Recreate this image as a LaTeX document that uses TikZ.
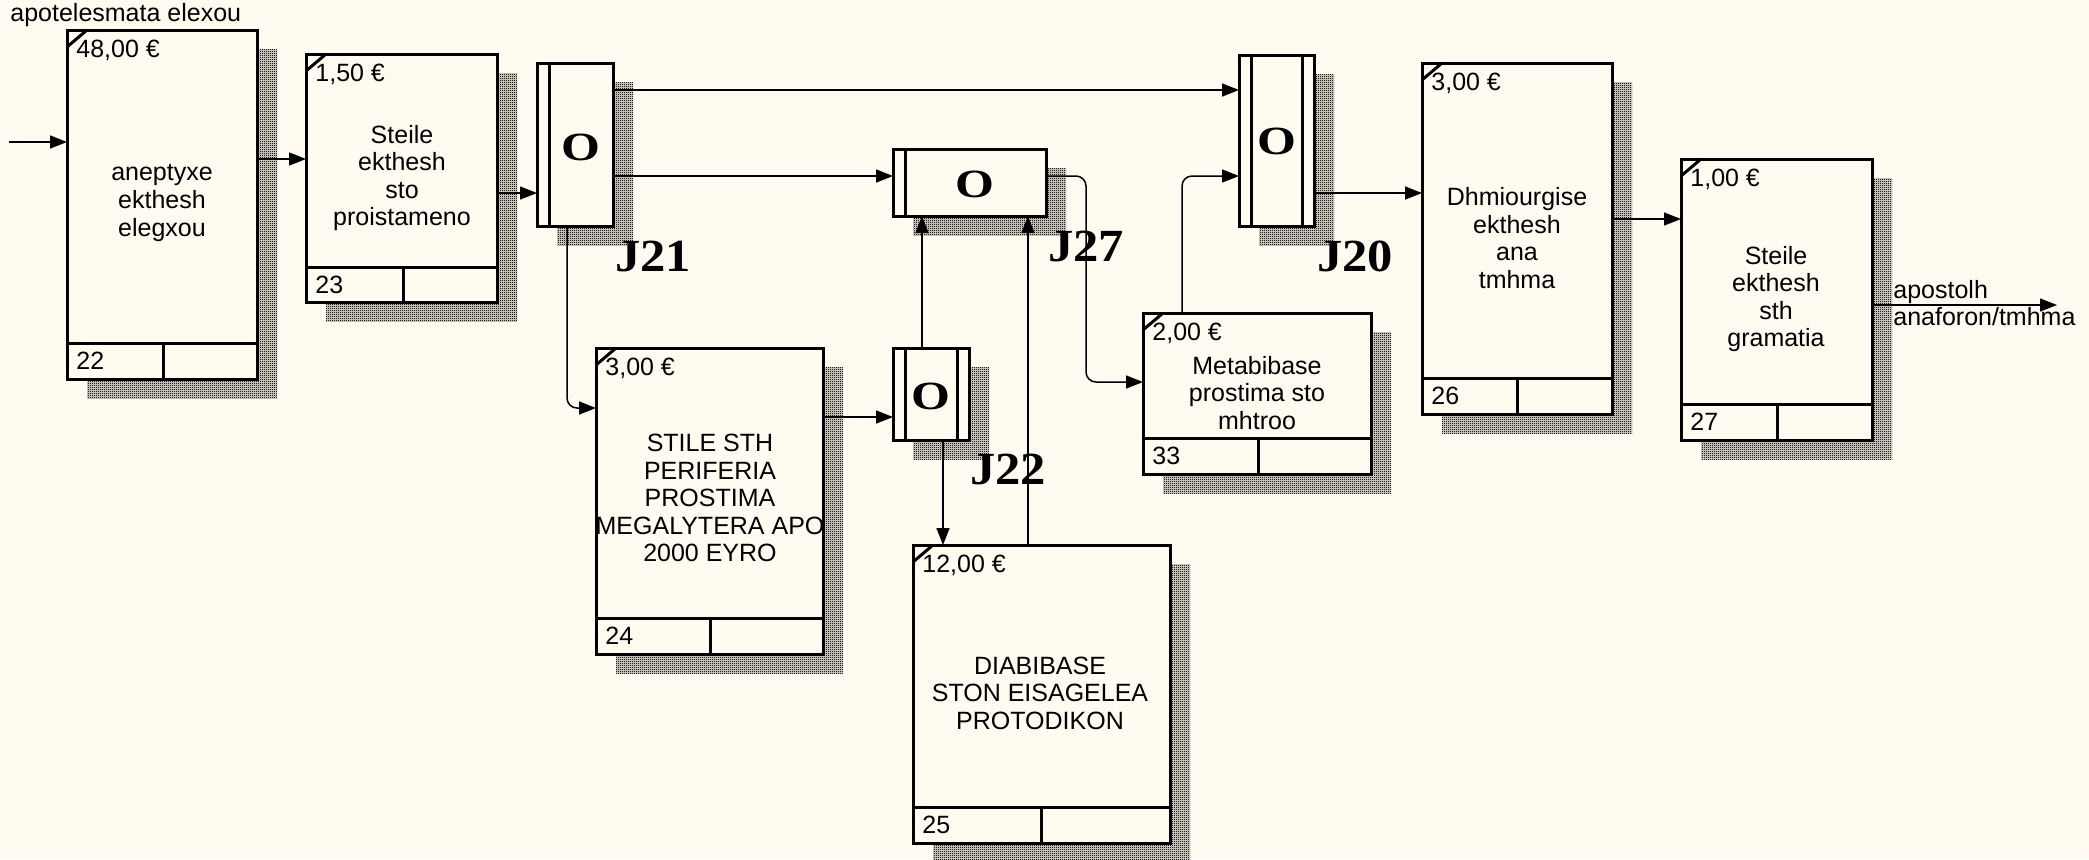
\documentclass[tikz,border=0pt]{standalone}
\usepackage{fontspec}
\usepackage{graphicx}
\setmainfont{Liberation Sans}
\newfontfamily\jfont{Liberation Serif}
\usetikzlibrary{arrows.meta,patterns}
\definecolor{bg}{RGB}{255,251,240}
\pgfdeclarepatternformonly{finecheck}{\pgfpointorigin}{\pgfpoint{1pt}{1pt}}{\pgfpoint{1pt}{1pt}}{%
 \pgfpathrectangle{\pgfpointorigin}{\pgfpoint{0.5pt}{0.5pt}}%
 \pgfpathrectangle{\pgfpoint{0.5pt}{0.5pt}}{\pgfpoint{0.5pt}{0.5pt}}%
 \pgfusepath{fill}}
\tikzset{
 conn/.style={line width=0.75pt},
 arr/.style={conn,-{Triangle[length=8.5pt,width=6.5pt]}},
 shadowfill/.style={pattern=finecheck, pattern color=black},
 ubox/.style={draw, line width=1.5pt, fill=bg, inner sep=0pt, outer sep=0pt},
 thickl/.style={line width=1.5pt},
 btext/.style={align=center, font=\fontsize{12.5}{13.8}\selectfont, inner sep=0pt},
 small/.style={font=\fontsize{12.5}{13.8}\selectfont, inner sep=0pt, anchor=west},
 jlabel/.style={font=\jfont\bfseries\fontsize{23}{25}\selectfont, inner sep=0pt},
 olabel/.style={font=\jfont\bfseries\fontsize{20}{22}\selectfont, inner sep=0pt},
}
% name, L, T, R, B, divider y, vertical x, cost, number
\newcommand{\ubx}[9]{%
 \fill[shadowfill] (#2+20,#3+19) rectangle (#4+20,#5+19);
 \fill[shadowfill] (#2+20,#3+19) rectangle (#4+20,#5+19);
 \node[ubox, minimum width={(#4-#2)*0.5pt}, minimum height={(#5-#3)*0.5pt}] (#1) at ({(#2+#4)/2},{(#3+#5)/2}) {};
 \draw[thickl] (#2,#6) -- (#4,#6);
 \draw[thickl] (#7,#6) -- (#7,#5);
 \draw[thickl] (#2,#3+17) -- (#2+20,#3);
 \node[small] (#1c) at (#2+9,#3+20) {#8};
 \node[small] (#1n) at (#2+9,{(#6+#5)/2}) {#9};
}
% name, L, T, R, B
\newcommand{\jbx}[5]{%
 \fill[shadowfill] (#2+20,#3+19) rectangle (#4+20,#5+19);
 \fill[shadowfill] (#2+20,#3+19) rectangle (#4+20,#5+19);
 \node[ubox, minimum width={(#4-#2)*0.5pt}, minimum height={(#5-#3)*0.5pt}] (#1) at ({(#2+#4)/2},{(#3+#5)/2}) {};
}
\begin{document}
\begin{tikzpicture}[x=0.5pt,y=-0.5pt]
\fill[bg] (0,0) rectangle (2089,859);
\useasboundingbox (0,0) rectangle (2089,859);

% boxes
\ubx{b22}{67}{30}{257}{379}{343}{163}{48,00 €}{22}
\ubx{b23}{306}{54}{497}{302}{267}{403}{1,50 €}{23}
\ubx{b24}{596}{348}{823}{654}{618}{710}{3,00 €}{24}
\ubx{b25}{913}{545}{1170}{843}{807}{1041}{12,00 €}{25}
\ubx{b33}{1143}{313}{1371}{474}{438}{1258}{2,00 €}{33}
\ubx{b26}{1422}{63}{1612}{414}{378}{1517}{3,00 €}{26}
\ubx{b27}{1681}{159}{1872}{440}{404}{1777}{1,00 €}{27}

% junctions
\jbx{jA}{537}{63}{613}{226}
\draw[thickl] (549,63) -- (549,226);
\node[olabel] (oA) at (581,147) {\scalebox{1.25}[1]{O}};
\node[jlabel] (lA) at (653,256) {\scalebox{1.1}[1]{J21}};

\jbx{jB}{893}{149}{1046}{216}
\draw[thickl] (905,149) -- (905,216);
\node[olabel] (oB) at (975,184) {\scalebox{1.25}[1]{O}};
\node[jlabel] (lB) at (1086,246) {\scalebox{1.1}[1]{J27}};

\jbx{jC}{893}{348}{969}{440}
\draw[thickl] (905,348) -- (905,440);
\draw[thickl] (957,348) -- (957,440);
\node[olabel] (oC) at (931,396) {\scalebox{1.25}[1]{O}};
\node[jlabel] (lC) at (1008,469) {\scalebox{1.1}[1]{J22}};

\jbx{jD}{1239}{55}{1314}{226}
\draw[thickl] (1251,55) -- (1251,226);
\draw[thickl] (1302,55) -- (1302,226);
\node[olabel] (oD) at (1277,141) {\scalebox{1.25}[1]{O}};
\node[jlabel] (lD) at (1355,256) {\scalebox{1.1}[1]{J20}};

% box texts
\node[btext] (t22) at (162,203) {aneptyxe\\ekthesh\\elegxou};
\node[btext] (t23) at (402,178) {Steile\\ekthesh\\sto\\proistameno};
\node[btext] (t24) at (710,498) {STILE STH\\PERIFERIA\\PROSTIMA\\MEGALYTERA APO\\2000 EYRO};
\node[btext] (t25) at (1040,693) {DIABIBASE\\STON EISAGELEA\\PROTODIKON};
\node[btext] (t33) at (1257,393) {Metabibase\\prostima sto\\mhtroo};
\node[btext] (t26) at (1517,238) {Dhmiourgise\\ekthesh\\ana\\tmhma};
\node[btext] (t27) at (1776,299) {Steile\\ekthesh\\sth\\gramatia};

% labels
\node[small] (inlab) at (10,15) {apotelesmata elexou};
\node[small, align=left] (outlab) at (1893,303) {apostolh\\anaforon/tmhma};

% connectors
\coordinate (src) at (9,142);
\coordinate (snk) at (2057,305);
\draw[arr] (src) -- (b22.west |- src);
\draw[arr] (b22.east |- 0,159) -- (b23.west |- 0,159);
\draw[arr] (b23.east |- 0,193) -- (jA.west |- 0,193);
\draw[arr] (jA.east |- 0,90) -- (jD.west |- 0,90);
\draw[arr] (jA.east |- 0,176) -- (jB.west |- 0,176);
\draw[arr, rounded corners=5pt] (jA.south -| 567,0) -- (567,408) -- (b24.west |- 0,408);
\draw[arr] (b24.east |- 0,417) -- (jC.west |- 0,417);
\draw[arr] (jC.north -| 922,0) -- (jB.south -| 922,0);
\draw[arr] (jC.south -| 943,0) -- (b25.north -| 943,0);
\draw[arr] (b25.north -| 1028,0) -- (jB.south -| 1028,0);
\draw[arr, rounded corners=5pt] (jB.east |- 0,176) -- (1086,176) -- (1086,382) -- (b33.west |- 0,382);
\draw[arr, rounded corners=5pt] (b33.north -| 1182,0) -- (1182,176) -- (jD.west |- 0,176);
\draw[arr] (jD.east |- 0,193) -- (b26.west |- 0,193);
\draw[arr] (b26.east |- 0,219) -- (b27.west |- 0,219);
\draw[arr] (b27.east |- snk) -- (snk);
\end{tikzpicture}
\end{document}
